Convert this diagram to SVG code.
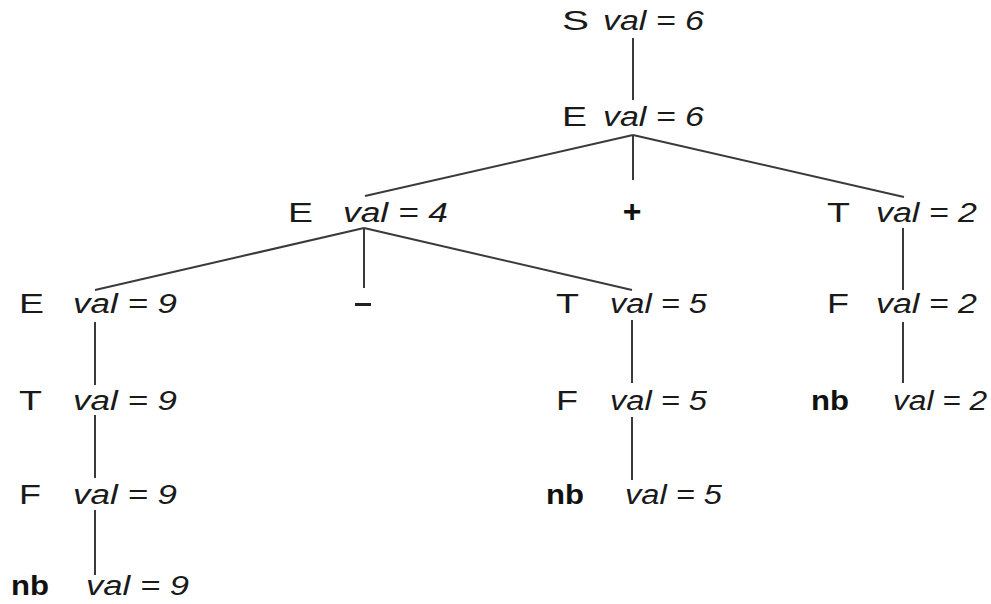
<svg xmlns="http://www.w3.org/2000/svg" width="991" height="604" viewBox="0 0 991 604">
  <style>
    .sym { font-family: "Liberation Sans", Arial, sans-serif; font-size: 27px; fill: #1a1a1a; }
    .tok { font-family: "Liberation Sans", Arial, sans-serif; font-size: 28px; font-weight: bold; fill: #111; }
    .val { font-family: "Liberation Sans", Arial, sans-serif; font-size: 27px; font-style: italic; fill: #1a1a1a; }
    .edge { stroke: #3a3a3a; stroke-width: 2; fill: none; }
  </style>
  <rect width="991" height="604" fill="#ffffff"/>

  <!-- parse tree edges -->
  <g id="connectors" class="edge">
    <line x1="633" y1="38" x2="633" y2="100"/>
    <line x1="633" y1="135" x2="365" y2="196"/>
    <line x1="633" y1="135" x2="633" y2="180"/>
    <line x1="633" y1="135" x2="904" y2="197"/>
    <line x1="364" y1="228" x2="95" y2="290"/>
    <line x1="364" y1="228" x2="364" y2="288"/>
    <line x1="364" y1="228" x2="632" y2="290"/>
    <line x1="903" y1="228" x2="903" y2="290"/>
    <line x1="903" y1="322" x2="903" y2="383"/>
    <line x1="95" y1="322" x2="95" y2="385"/>
    <line x1="95" y1="415" x2="95" y2="478"/>
    <line x1="95" y1="510" x2="95" y2="575"/>
    <line x1="632" y1="320" x2="632" y2="383"/>
    <line x1="632" y1="417" x2="632" y2="480"/>
  </g>

  <!-- root -->
  <g id="node-S">
    <text class="sym" x="562" y="30" textLength="27" lengthAdjust="spacingAndGlyphs">S</text>
    <text class="val" x="603" y="30" textLength="101" lengthAdjust="spacingAndGlyphs">val = 6</text>
  </g>
  <g id="node-E1">
    <text class="sym" x="562" y="126" textLength="25" lengthAdjust="spacingAndGlyphs">E</text>
    <text class="val" x="603" y="126" textLength="101" lengthAdjust="spacingAndGlyphs">val = 6</text>
  </g>

  <!-- second level -->
  <g id="node-E2">
    <text class="sym" x="288" y="222" textLength="25" lengthAdjust="spacingAndGlyphs">E</text>
    <text class="val" x="343" y="222" textLength="105" lengthAdjust="spacingAndGlyphs">val = 4</text>
  </g>
  <g id="node-plus">
    <text class="tok" x="632" y="222" text-anchor="middle" style="font-size:32px">+</text>
  </g>
  <g id="node-T2">
    <text class="sym" x="827" y="222" textLength="23" lengthAdjust="spacingAndGlyphs">T</text>
    <text class="val" x="876" y="222" textLength="101" lengthAdjust="spacingAndGlyphs">val = 2</text>
  </g>

  <!-- third level -->
  <g id="node-E9">
    <text class="sym" x="19" y="313" textLength="25" lengthAdjust="spacingAndGlyphs">E</text>
    <text class="val" x="73" y="313" textLength="104" lengthAdjust="spacingAndGlyphs">val = 9</text>
  </g>
  <g id="node-minus">
    <rect x="355" y="303" width="16" height="3" fill="#222"/>
  </g>
  <g id="node-T5">
    <text class="sym" x="556" y="313" textLength="23" lengthAdjust="spacingAndGlyphs">T</text>
    <text class="val" x="610" y="313" textLength="97" lengthAdjust="spacingAndGlyphs">val = 5</text>
  </g>
  <g id="node-F2">
    <text class="sym" x="827" y="313" textLength="22" lengthAdjust="spacingAndGlyphs">F</text>
    <text class="val" x="876" y="313" textLength="101" lengthAdjust="spacingAndGlyphs">val = 2</text>
  </g>

  <!-- fourth level -->
  <g id="node-T9">
    <text class="sym" x="19" y="410" textLength="23" lengthAdjust="spacingAndGlyphs">T</text>
    <text class="val" x="73" y="410" textLength="104" lengthAdjust="spacingAndGlyphs">val = 9</text>
  </g>
  <g id="node-F5">
    <text class="sym" x="556" y="410" textLength="22" lengthAdjust="spacingAndGlyphs">F</text>
    <text class="val" x="610" y="410" textLength="97" lengthAdjust="spacingAndGlyphs">val = 5</text>
  </g>
  <g id="node-nb2">
    <text class="tok" x="811" y="410" textLength="38" lengthAdjust="spacingAndGlyphs">nb</text>
    <text class="val" x="893" y="410" textLength="94" lengthAdjust="spacingAndGlyphs">val = 2</text>
  </g>

  <!-- fifth level -->
  <g id="node-F9">
    <text class="sym" x="19" y="504" textLength="22" lengthAdjust="spacingAndGlyphs">F</text>
    <text class="val" x="73" y="504" textLength="104" lengthAdjust="spacingAndGlyphs">val = 9</text>
  </g>
  <g id="node-nb5">
    <text class="tok" x="546" y="504" textLength="38" lengthAdjust="spacingAndGlyphs">nb</text>
    <text class="val" x="625" y="504" textLength="97" lengthAdjust="spacingAndGlyphs">val = 5</text>
  </g>

  <!-- sixth level -->
  <g id="node-nb9">
    <text class="tok" x="11" y="595" textLength="38" lengthAdjust="spacingAndGlyphs">nb</text>
    <text class="val" x="86" y="595" textLength="103" lengthAdjust="spacingAndGlyphs">val = 9</text>
  </g>
</svg>
